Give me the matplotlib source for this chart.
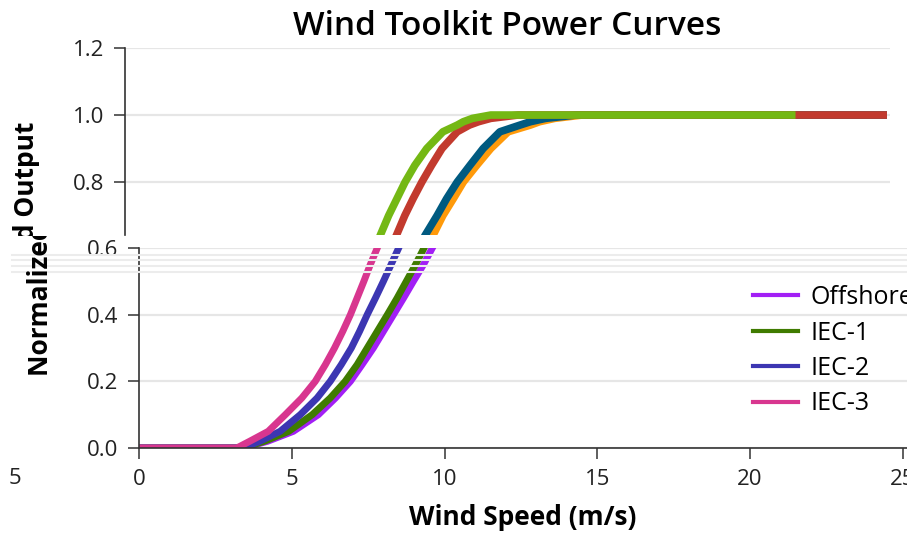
import matplotlib
matplotlib.use("Agg")
import matplotlib.pyplot as plt
from matplotlib.lines import Line2D
from matplotlib.transforms import Bbox

# --------------------------------------------------------------------------- #
# data (wind speed m/s, normalized output)
series_names = ["Offshore", "IEC-1", "IEC-2", "IEC-3"]

# lower panel (0 - 0.6)
low_y = [0, 0, 0.02, 0.05, 0.10, 0.15, 0.20, 0.25, 0.30, 0.35, 0.40, 0.45, 0.50, 0.55, 0.60, 0.65]
low_offshore_x = [0, 3.4, 4.2, 5.05, 5.87, 6.43, 6.92, 7.30, 7.67, 8.0, 8.33, 8.66, 8.98, 9.31, 9.6, 9.9]
low_iec1_x = [0, 3.4, 4.1, 4.9, 5.67, 6.26, 6.75, 7.14, 7.47, 7.8, 8.13, 8.45, 8.75, 9.05, 9.33, 9.6]
low_iec2_x = [0, 3.4, 3.95, 4.62, 5.28, 5.83, 6.26, 6.62, 6.95, 7.22, 7.47, 7.74, 8.0, 8.25, 8.5, 8.75]
low_iec3_x = [0, 3.2, 3.62, 4.23, 4.79, 5.33, 5.77, 6.1, 6.4, 6.67, 6.92, 7.14, 7.36, 7.57, 7.8, 8.0]

# upper panel (0.64 - 1.2)
up_y = [0.60, 0.64, 0.70, 0.75, 0.80, 0.85, 0.90, 0.95, 0.97, 0.98, 0.99, 1.0, 1.0]
up_offshore_x = [9.9, 10.1, 10.43, 10.77, 11.1, 11.54, 12.0, 12.57, 13.3, 13.6, 14.1, 15.0, 25.0]
up_iec1_x = [9.65, 9.84, 10.24, 10.55, 10.9, 11.32, 11.75, 12.3, 12.96, 13.3, 13.8, 14.8, 25.0]
up_iec2_x = [8.7, 8.9, 9.18, 9.45, 9.74, 10.06, 10.4, 10.9, 11.3, 11.6, 12.0, 12.9, 25.0]
up_iec3_x = [8.2, 8.37, 8.65, 8.92, 9.19, 9.51, 9.9, 10.43, 10.9, 11.1, 11.4, 12.0, 22.0]

y_ticks_low = [0.0, 0.2, 0.4, 0.6]
y_ticks_up = [0.8, 1.0, 1.2]
x_ticks = [0, 5, 10, 15, 20, 25]

low_colors = ["#a21ff5", "#3f7b00", "#3c36b2", "#d8368f"]
up_colors = ["#ff9a0a", "#005a80", "#c23a2e", "#74b814"]

# --------------------------------------------------------------------------- #
plt.rcParams['font.family'] = ['Open Sans', 'DejaVu Sans']
W, H = 907, 540
fig = plt.figure(figsize=(W / 100, H / 100), dpi=100)

# upper panel
ax_up = fig.add_axes([125 / W, 1 - 235 / H, 765 / W, 187 / H])
ax_up.patch.set_alpha(0)
for xs, c in zip([up_offshore_x, up_iec1_x, up_iec2_x, up_iec3_x], up_colors):
    ax_up.plot(xs, up_y, color=c, lw=5.5, solid_capstyle='butt', solid_joinstyle='round')
ax_up.set_xlim(0, 25.1)
ax_up.set_ylim(0.642, 1.2)
ax_up.set_yticks(y_ticks_up)
ax_up.set_yticklabels([f"{v:.1f}" for v in y_ticks_up])
ax_up.set_xticks([])
for s in ["top", "right", "bottom"]:
    ax_up.spines[s].set_visible(False)
ax_up.spines["left"].set_color("#333333")
ax_up.spines["left"].set_linewidth(1.2)
ax_up.tick_params(axis='y', length=8, width=1.1, color="#333333", labelsize=16,
                  labelcolor="#222222", pad=7)
ax_up.grid(axis='y', color="#e6e6e6", lw=1.6)
ax_up.set_axisbelow(True)
ax_up.set_title("Wind Toolkit Power Curves", fontsize=24, fontweight='semibold', pad=9)

# lower panel
ax_low = fig.add_axes([139 / W, 1 - 448 / H, 768 / W, 200 / H])
ax_low.patch.set_alpha(0)
for xs, c, name in zip([low_offshore_x, low_iec1_x, low_iec2_x, low_iec3_x],
                       low_colors, series_names):
    ax_low.plot(xs, low_y, color=c, lw=5, solid_capstyle='butt', solid_joinstyle='round', label=name)
ax_low.set_xlim(0, 768 / 30.55)
ax_low.set_ylim(0, 0.6)
ax_low.set_xticks(x_ticks)
ax_low.set_yticks(y_ticks_low)
ax_low.set_yticklabels([f"{v:.1f}" for v in y_ticks_low])
for s in ["top", "right"]:
    ax_low.spines[s].set_visible(False)
for s in ["left", "bottom"]:
    ax_low.spines[s].set_color("#333333")
    ax_low.spines[s].set_linewidth(1.2)
ax_low.tick_params(length=8, width=1.1, color="#333333", labelsize=16,
                   labelcolor="#222222", pad=7)
ax_low.grid(axis='y', color="#e6e6e6", lw=1.6)
ax_low.set_axisbelow(True)
ax_low.set_xlabel("Wind Speed (m/s)", fontsize=19, fontweight='bold', labelpad=10)

handles = [Line2D([], [], color=c, lw=3) for c in low_colors]
ax_low.legend(handles, series_names, loc='upper left', bbox_to_anchor=(0.80, 0.815),
              frameon=False, fontsize=18, handlelength=1.8, handletextpad=0.5,
              labelspacing=0.42, borderpad=0, borderaxespad=0)

# faint glitch lines between the panels
for py in [255, 260, 266, 272]:
    fig.add_artist(Line2D([12 / W, 1], [1 - py / H, 1 - py / H], color="#ececec", lw=1.5))

# y label, split between the two panels
for cx, box in [(27, Bbox.from_extents(0, H - 236, W, H)),
                (41, Bbox.from_extents(0, 0, W, H - 236))]:
    t = fig.text(cx / W, 1 - 249 / H, "Normalized Output", rotation=90, ha='center',
                 va='center', fontsize=19, fontweight='bold')
    t.set_clip_box(box)
    t.set_clip_on(True)

fig.text(15 / W, 1 - 478 / H, "5", ha='center', va='center', fontsize=16, color="#222222")

fig.savefig("out.png", dpi=100)
